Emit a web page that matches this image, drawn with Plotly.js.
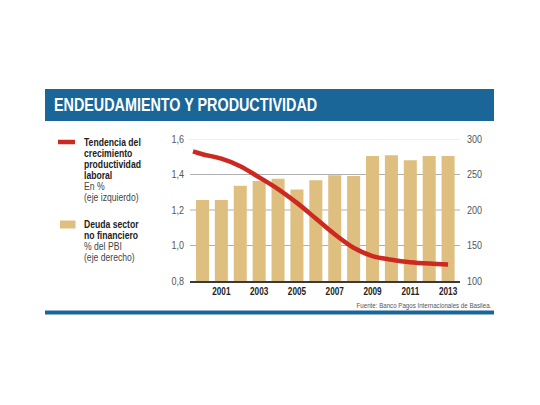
<!DOCTYPE html>
<html>
<head>
<meta charset="utf-8">
<script src="https://cdn.plot.ly/plotly-3.0.1.min.js"></script>
<style>html,body{margin:0;padding:0;background:#fff;}#chart{width:540px;height:405px;}</style>
</head>
<body>
<div id="chart"></div>
<script>
// ---- data ----
const years = [2000, 2001, 2002, 2003, 2004, 2005, 2006, 2007, 2008, 2009, 2010, 2011, 2012, 2013];
const deuda = [214, 214, 234, 241, 244, 229, 242, 249, 248, 276, 277, 270, 276, 276];
const tendYears = [1999.5, 2000, 2001, 2002, 2003, 2004, 2005, 2006, 2007, 2008, 2009, 2010, 2011, 2012, 2013];
const tendencia = [1.53, 1.514, 1.489, 1.447, 1.384, 1.318, 1.24, 1.152, 1.063, 0.987, 0.94, 0.92, 0.906, 0.898, 0.893];
const leftTicks = [0.8, 1.0, 1.2, 1.4, 1.6];
const leftLabels = ['0,8', '1,0', '1,2', '1,4', '1,6'];
const rightTicks = [100, 150, 200, 250, 300];
const rightLabels = ['100', '150', '200', '250', '300'];
const xTicks = [2001, 2003, 2005, 2007, 2009, 2011, 2013];
const xLabels = ['2001', '2003', '2005', '2007', '2009', '2011', '2013'];
const titleText = 'ENDEUDAMIENTO Y PRODUCTIVIDAD';
const legend1Bold = ['Tendencia del', 'crecimiento', 'productividad', 'laboral'];
const legend1Reg = ['En %', '(eje izquierdo)'];
const legend2Bold = ['Deuda sector', 'no financiero'];
const legend2Reg = ['% del PBI', '(eje derecho)'];
const sourceText = 'Fuente: Banco Pagos Internacionales de Basilea.';

// ---- styling ----
const FONT = '"Liberation Sans", Arial, sans-serif';
const NARROW = 0.82; // horizontal condensing of text
const BLUE = '#1a6699';
const RED = '#cc2a20';
const TAN = '#dfbf80';
const L = 190, R = 460, T = 139, B = 281;
const px = x => (x - L) / (R - L);
const py = y => (B - y) / (B - T);

const traces = [
  {
    type: 'bar', x: years, y: deuda, yaxis: 'y',
    marker: {color: TAN, line: {width: 0}}, hoverinfo: 'skip'
  },
  {
    type: 'scatter', mode: 'lines', x: tendYears, y: tendencia, yaxis: 'y2',
    line: {color: RED, width: 4.5, shape: 'spline', smoothing: 1}, hoverinfo: 'skip'
  }
];

const shapes = [];
// grid lines (from left tick values)
leftTicks.slice(1).forEach(v => {
  shapes.push({type: 'line', xref: 'paper', yref: 'y2', x0: 0, x1: 1, y0: v, y1: v,
    layer: 'below', line: {color: v === 1.6 ? '#dedede' : '#b0b0b0', width: 1}});
});
// title bar
shapes.push({type: 'rect', xref: 'paper', yref: 'paper', x0: px(45), x1: px(494), y0: py(121), y1: py(89),
  fillcolor: BLUE, line: {width: 0}});
// bottom bar
shapes.push({type: 'rect', xref: 'paper', yref: 'paper', x0: px(45), x1: px(494), y0: py(314.5), y1: py(310.5),
  fillcolor: BLUE, line: {width: 0}});
// legend symbols
shapes.push({type: 'line', xref: 'paper', yref: 'paper', x0: px(58), x1: px(75), y0: py(142), y1: py(142),
  line: {color: RED, width: 4.5}});
shapes.push({type: 'rect', xref: 'paper', yref: 'paper', x0: px(60), x1: px(75.5), y0: py(228.5), y1: py(220.5),
  fillcolor: TAN, line: {width: 0}});

const annotations = [];
annotations.push({text: '<b>' + titleText + '</b>', xref: 'paper', yref: 'paper', x: px(51.5), y: py(104.5),
  xanchor: 'left', yanchor: 'middle', align: 'left', showarrow: false,
  font: {family: FONT, size: 17.5, color: '#ffffff'}});
const lh = 10.9;
function addLines(lines, startY, bold) {
  lines.forEach((t, i) => {
    annotations.push({text: bold ? '<b>' + t + '</b>' : t, xref: 'paper', yref: 'paper',
      x: px(81.5), y: py(startY + i * lh), xanchor: 'left', yanchor: 'middle', align: 'left', showarrow: false,
      font: {family: FONT, size: 10.5, color: bold ? '#222222' : '#444444'}});
  });
}
addLines(legend1Bold, 142, true);
addLines(legend1Reg, 142 + 4 * lh, false);
addLines(legend2Bold, 224.3, true);
addLines(legend2Reg, 224.3 + 2 * lh, false);
annotations.push({text: sourceText, xref: 'paper', yref: 'paper', x: px(493), y: py(305),
  xanchor: 'right', yanchor: 'middle', align: 'right', showarrow: false,
  font: {family: FONT, size: 7.5, color: '#555555'}});

const layout = {
  width: 540, height: 405,
  margin: {l: L, r: 540 - R, t: T, b: 405 - B, pad: 0},
  paper_bgcolor: '#ffffff', plot_bgcolor: '#ffffff',
  showlegend: false,
  bargap: 0.31,
  xaxis: {
    range: [1999.34, 2013.63], tickvals: xTicks, ticktext: xLabels,
    showgrid: false, zeroline: false, showline: true, linecolor: '#3a3a3a', linewidth: 2,
    ticks: '', tickfont: {family: FONT, size: 10, color: '#222222', weight: 'bold'}, fixedrange: true
  },
  yaxis: {
    side: 'right', range: [100, 300], tickvals: rightTicks, ticktext: rightLabels,
    showgrid: false, zeroline: false, showline: false, ticks: '', ticklabelstandoff: 6,
    tickfont: {family: FONT, size: 11, color: '#555555'}, fixedrange: true
  },
  yaxis2: {
    side: 'left', overlaying: 'y', range: [0.8, 1.6], tickvals: leftTicks, ticktext: leftLabels,
    showgrid: false, zeroline: false, showline: false, ticks: '', ticklabelstandoff: 5,
    tickfont: {family: FONT, size: 11, color: '#555555'}, fixedrange: true
  },
  shapes: shapes,
  annotations: annotations
};

Plotly.newPlot('chart', traces, layout, {displayModeBar: false, staticPlot: true}).then(gd => {
  // emulate a condensed typeface by narrowing every text horizontally
  gd.querySelectorAll('text.annotation-text, g.xtick text, g.ytick text, g.y2tick text').forEach(t => {
    const w = t.getComputedTextLength();
    if (w > 0) {
      t.setAttribute('textLength', (w * NARROW).toFixed(2));
      t.setAttribute('lengthAdjust', 'spacingAndGlyphs');
    }
  });
});
</script>
</body>
</html>
